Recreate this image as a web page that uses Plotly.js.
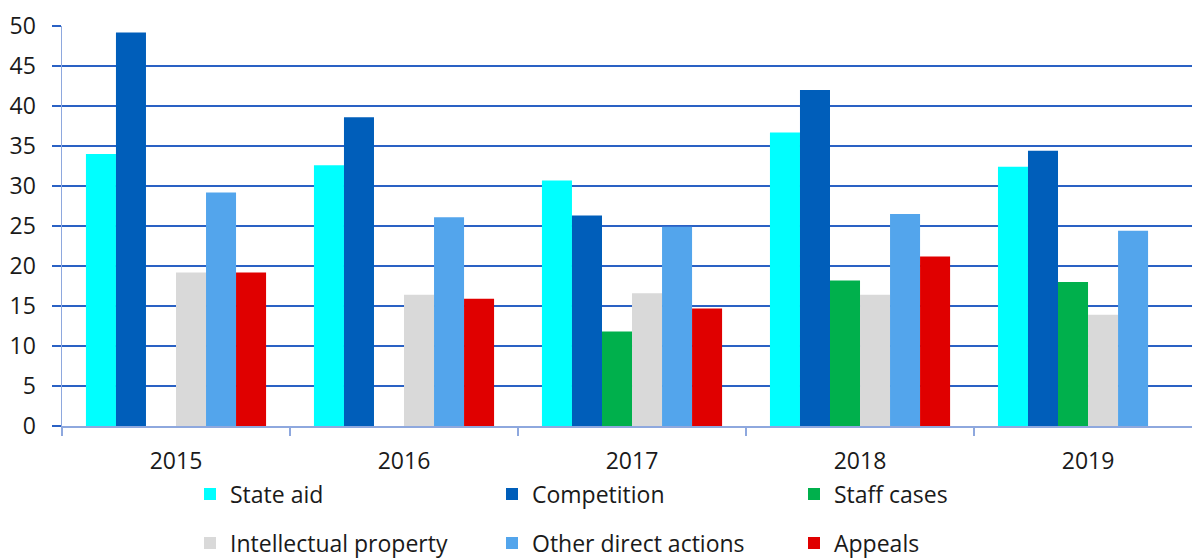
<!DOCTYPE html>
<html>
<head>
<meta charset="utf-8">
<script src="https://cdn.plot.ly/plotly-3.0.1.min.js"></script>
<style>html,body{margin:0;padding:0;background:#fff;}#chart{width:1192px;height:559px;}</style>
</head>
<body>
<div id="chart"></div>
<script>
var years = ['2015', '2016', '2017', '2018', '2019'];
var stateAid = [34.0, 32.6, 30.7, 36.7, 32.4];
var competition = [49.2, 38.6, 26.3, 42.0, 34.4];
var staffCases = [null, null, 11.8, 18.2, 18.0];
var intellectualProperty = [19.2, 16.4, 16.6, 16.4, 13.9];
var otherDirectActions = [29.2, 26.1, 24.9, 26.5, 24.4];
var appeals = [19.2, 15.9, 14.7, 21.2, null];
var yTicks = [0, 5, 10, 15, 20, 25, 30, 35, 40, 45, 50];

var series = [
  {name: 'State aid', y: stateAid, color: '#00FFFF', legend: 'legend'},
  {name: 'Competition', y: competition, color: '#005EBA', legend: 'legend'},
  {name: 'Staff cases', y: staffCases, color: '#00B04C', legend: 'legend'},
  {name: 'Intellectual property', y: intellectualProperty, color: '#D9D9D9', legend: 'legend2'},
  {name: 'Other direct actions', y: otherDirectActions, color: '#53A5EC', legend: 'legend2'},
  {name: 'Appeals', y: appeals, color: '#E00000', legend: 'legend2'}
];

var traces = series.map(function (s) {
  return {
    type: 'bar', name: s.name, x: years, y: s.y, legend: s.legend,
    marker: {color: s.color, line: {width: 0}},
    hoverinfo: 'x+y+name'
  };
});

var font = {family: '"Open Sans", "Noto Sans", sans-serif', size: 23, color: '#1a1a1a'};
var legendBase = {
  orientation: 'h', xref: 'container', yref: 'container',
  xanchor: 'left', yanchor: 'middle', entrywidth: 257, entrywidthmode: 'pixels',
  font: font, bgcolor: 'rgba(0,0,0,0)', borderwidth: 0, itemclick: false, traceorder: 'normal'
};

var layout = {
  width: 1192, height: 559,
  margin: {l: 62, r: 0, t: 26, b: 133},
  paper_bgcolor: '#ffffff', plot_bgcolor: '#ffffff',
  font: font,
  barmode: 'group', bargap: 0.21, bargroupgap: 0,
  xaxis: {
    type: 'category', range: [-0.5, 4.456],
    tickson: 'boundaries', ticks: 'outside', ticklen: 8, tickcolor: '#8EA8DE', tickwidth: 1.5,
    showline: true, linecolor: '#8EA8DE', linewidth: 1.5,
    showgrid: false, zeroline: false, ticklabelstandoff: 14, tickfont: font
  },
  yaxis: {
    range: [0, 50], tickvals: yTicks, ticktext: yTicks.map(String),
    ticks: 'outside', ticklen: 9, tickcolor: '#2A61C4', tickwidth: 1.5,
    showgrid: true, gridcolor: '#2A61C4', gridwidth: 1.5,
    showline: true, linecolor: '#8EA8DE', linewidth: 1.5,
    zeroline: false, ticklabelstandoff: 11, tickfont: font
  },
  legend: Object.assign({}, legendBase, {x: 190 / 1192, y: 1 - 494 / 559}),
  legend2: Object.assign({}, legendBase, {x: 190 / 1192, y: 1 - 543 / 559}),
  showlegend: true
};

Plotly.newPlot('chart', traces, layout, {displayModeBar: false, staticPlot: true});
</script>
</body>
</html>
